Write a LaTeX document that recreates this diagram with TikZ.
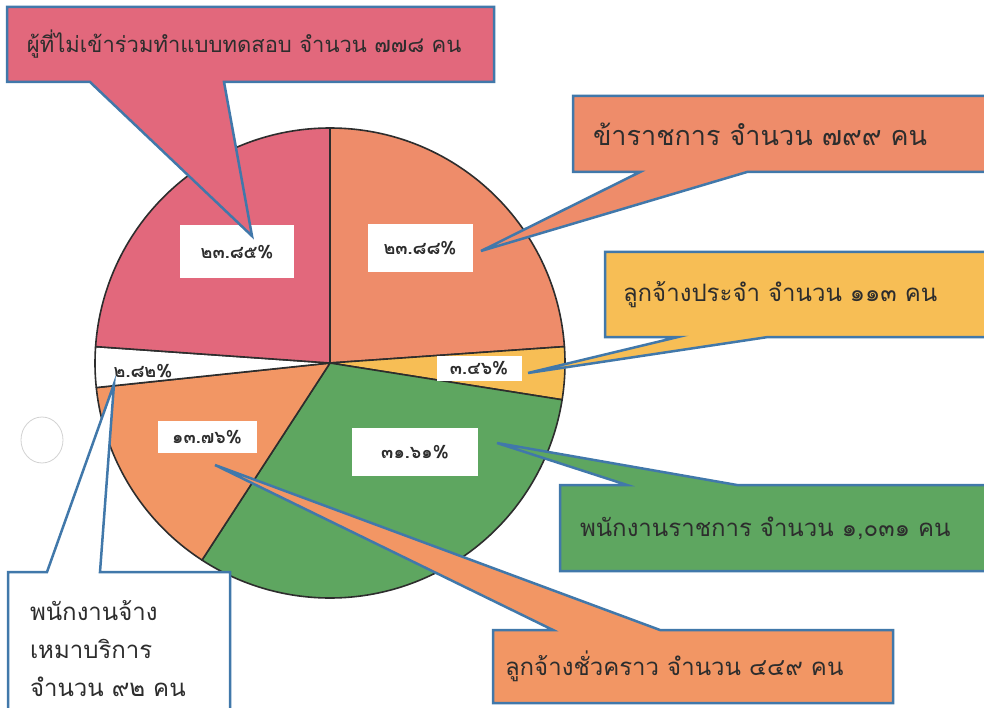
\documentclass[tikz,border=0pt]{standalone}
\usepackage{fontspec}
\newfontfamily\thaifont[Script=Thai]{Loma}
\usetikzlibrary{calc}

\definecolor{pinkc}{RGB}{226,104,124}
\definecolor{salmonc}{RGB}{238,140,106}
\definecolor{yellowc}{RGB}{247,190,85}
\definecolor{greenc}{RGB}{94,166,96}
\definecolor{orangec}{RGB}{242,150,100}
\definecolor{edgec}{RGB}{65,120,170}
\definecolor{inkc}{RGB}{45,45,45}

\pgfdeclarelayer{shapes}
\pgfdeclarelayer{texts}
\pgfsetlayers{main,shapes,texts}

\tikzset{
  slice/.style={draw=inkc, line width=1.6pt, line join=round},
  pct/.style={fill=white, text=inkc, font=\thaifont\bfseries\fontsize{18}{20}\selectfont, inner sep=0pt, outer sep=0pt},
  callbox/.style={text=inkc, font=\thaifont\fontsize{24}{38}\selectfont, align=left, anchor=north west, inner xsep=20pt, inner ysep=0pt, outer sep=0pt},
  callshape/.style={draw=edgec, line width=2.5pt, line join=miter},
}

\begin{document}
\begin{tikzpicture}[x=1pt, y=-1pt]
\clip (0,0) rectangle (984,708);
\fill[white] (0,0) rectangle (984,708);
\draw[gray!35, line width=0.8pt] (42,440) ellipse[x radius=21, y radius=23];

\coordinate (o) at (330,363);
\foreach \a/\b/\c in {4/90/salmonc, -9/4/yellowc, -123/-9/greenc, 186/237/orangec, 176/186/white, 90/176/pinkc}{
	\filldraw[slice, fill=\c] (o) -- ++(-\a:235) arc[start angle=-\a, end angle=-\b, radius=235] -- cycle;
}

\node[pct, minimum width=114, minimum height=53] (pnontest) at (237,252) {๒๓.๘๕\%};
\node[pct, minimum width=105, minimum height=48] (pgov) at (420,248) {๒๓.๘๘\%};
\node[pct, minimum width=85, minimum height=25] (pperm) at (479,368) {๓.๔๖\%};
\node[pct, minimum width=126, minimum height=48] (pstaff) at (415,452) {๓๑.๖๑\%};
\node[pct, minimum width=99, minimum height=32] (ptemp) at (207,437) {๑๓.๗๖\%};
\node[pct, fill=none] (pservice) at (143,371) {๒.๘๒\%};

\coordinate (nontip) at (252,236);
\coordinate (govtip) at (481,251);
\coordinate (permtip) at (528,373);
\coordinate (stafftip) at (497,443);
\coordinate (temptip) at (215,465);
\coordinate (servicetip) at (114,384);

\begin{pgfonlayer}{texts}
\node[callbox, font=\thaifont\fontsize{22}{38}\selectfont, text width=447, minimum height=75] (nontest) at (7,7) {ผู้ที่ไม่เข้าร่วมทำแบบทดสอบ จำนวน ๗๗๘ คน};
\node[callbox, font=\thaifont\fontsize{27}{38}\selectfont, text width=387, minimum height=76] (gov) at (573,96) {ข้าราชการ จำนวน ๗๙๙ คน};
\node[callbox, inner xsep=18pt, text width=359, minimum height=85] (perm) at (605,252) {ลูกจ้างประจำ จำนวน ๑๑๓ คน};
\node[callbox, text width=400, minimum height=86] (staff) at (560,485) {พนักงานราชการ จำนวน ๑,๐๓๑ คน};
\node[callbox, inner xsep=12pt, text width=376, minimum height=73] (temp) at (493,630) {ลูกจ้างชั่วคราว จำนวน ๔๔๙ คน};
\node[callbox, inner xsep=22pt, text width=178, minimum height=154] (service) at (8,572) {พนักงานจ้าง\\เหมาบริการ\\จำนวน ๙๒ คน};
\end{pgfonlayer}

\begin{pgfonlayer}{shapes}
\filldraw[callshape, fill=pinkc] (nontest.north west) -- (nontest.north east) -- (nontest.south east) -- ($(nontest.south west)+(217,0)$) -- (nontip) -- ($(nontest.south west)+(83,0)$) -- (nontest.south west) -- cycle;
\filldraw[callshape, fill=salmonc] (gov.north west) -- (gov.north east) -- (gov.south east) -- ($(gov.south west)+(174,0)$) -- (govtip) -- ($(gov.south west)+(67,0)$) -- (gov.south west) -- cycle;
\filldraw[callshape, fill=yellowc] (perm.north west) -- (perm.north east) -- (perm.south east) -- ($(perm.south west)+(163,0)$) -- (permtip) -- ($(perm.south west)+(73,0)$) -- (perm.south west) -- cycle;
\filldraw[callshape, fill=greenc] (staff.north west) -- ($(staff.north west)+(67,0)$) -- (stafftip) -- ($(staff.north west)+(177,0)$) -- (staff.north east) -- (staff.south east) -- (staff.south west) -- cycle;
\filldraw[callshape, fill=orangec] (temp.north west) -- ($(temp.north west)+(60,0)$) -- (temptip) -- ($(temp.north west)+(167,0)$) -- (temp.north east) -- (temp.south east) -- (temp.south west) -- cycle;
\filldraw[callshape, fill=white] (service.north west) -- ($(service.north west)+(39,0)$) -- (servicetip) -- ($(service.north west)+(92,0)$) -- (service.north east) -- (service.south east) -- (service.south west) -- cycle;
\end{pgfonlayer}

\end{tikzpicture}
\end{document}
